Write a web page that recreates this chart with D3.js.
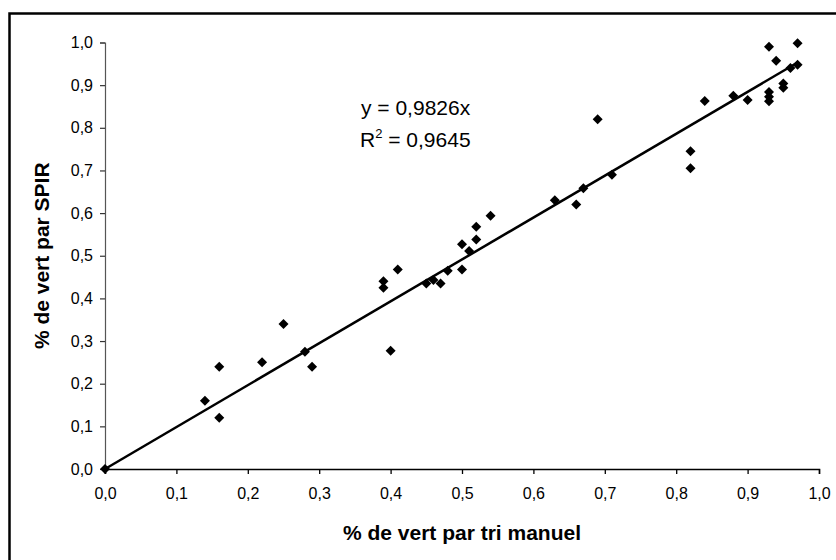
<!DOCTYPE html>
<html>
<head>
<meta charset="utf-8">
<script src="https://cdn.jsdelivr.net/npm/d3@7"></script>
<style>
  html, body { margin: 0; padding: 0; background: #fff; }
  svg { display: block; font-family: "Liberation Sans", Arial, sans-serif; }
</style>
</head>
<body>
<svg id="chart" width="836" height="560"></svg>
<script>
// Data
const manualGreen = [0.00, 0.14, 0.16, 0.16, 0.22, 0.25, 0.28, 0.29, 0.39, 0.39, 0.41, 0.40,
  0.45, 0.46, 0.47, 0.48, 0.50, 0.50, 0.51, 0.52, 0.52, 0.54, 0.63, 0.66, 0.67, 0.69, 0.71,
  0.82, 0.82, 0.84, 0.88, 0.90, 0.93, 0.93, 0.93, 0.95, 0.95, 0.93, 0.94, 0.97, 0.97, 0.96];
const spirGreen = [0.00, 0.16, 0.12, 0.24, 0.25, 0.34, 0.275, 0.24, 0.44, 0.425, 0.468, 0.277,
  0.435, 0.443, 0.435, 0.465, 0.468, 0.527, 0.511, 0.538, 0.568, 0.594, 0.63, 0.62, 0.658, 0.82, 0.69,
  0.745, 0.705, 0.863, 0.875, 0.865, 0.884, 0.873, 0.862, 0.904, 0.894, 0.99, 0.957, 0.998, 0.948, 0.94];
const tickValues = [0, 0.1, 0.2, 0.3, 0.4, 0.5, 0.6, 0.7, 0.8, 0.9, 1.0];
const slope = 0.9826;
const equationLabel = "y = 0,9826x";
const rSquaredLabel = "0,9645";
const xTitle = "% de vert par tri manuel";
const yTitle = "% de vert par SPIR";

const svg = d3.select("#chart");

// outer frame
svg.append("rect")
  .attr("x", 9.5).attr("y", 13.5)
  .attr("width", 860).attr("height", 600)
  .attr("fill", "none").attr("stroke", "#000").attr("stroke-width", 2.5);

const x = d3.scaleLinear().domain([0, 1]).range([105, 819]);
const y = d3.scaleLinear().domain([0, 1]).range([469, 42.5]);
const fmt = v => d3.format(".1f")(v).replace(".", ",");

// Y axis
const gy = svg.append("g").attr("transform", `translate(${x(0)},0)`)
  .call(d3.axisLeft(y).tickValues(tickValues).tickFormat(fmt).tickSizeOuter(0).tickSize(5).tickPadding(7));
gy.select(".domain").attr("stroke", "#555").attr("stroke-width", 1.2);
gy.selectAll(".tick line").attr("stroke", "#333").attr("stroke-width", 1.2);
gy.selectAll(".tick text").attr("font-size", 16).attr("fill", "#000")
  .attr("font-family", "'Liberation Sans', Arial, sans-serif");

// X axis
const gx = svg.append("g").attr("transform", `translate(0,${y(0)})`)
  .call(d3.axisBottom(x).tickValues(tickValues).tickFormat(fmt).tickSizeOuter(0).tickSize(5).tickPadding(14));
gx.select(".domain").attr("stroke", "#000").attr("stroke-width", 1.5);
gx.selectAll(".tick line").attr("stroke", "#000").attr("stroke-width", 1.3);
gx.selectAll(".tick text").attr("font-size", 16).attr("fill", "#000")
  .attr("font-family", "'Liberation Sans', Arial, sans-serif");

// axis titles
svg.append("text")
  .attr("x", (x(0) + x(1)) / 2).attr("y", 540)
  .attr("text-anchor", "middle")
  .attr("font-size", 21).attr("font-weight", "bold")
  .text(xTitle);

svg.append("text")
  .attr("transform", `translate(49,${(y(0) + y(1)) / 2}) rotate(-90)`)
  .attr("text-anchor", "middle")
  .attr("font-size", 21).attr("font-weight", "bold")
  .text(yTitle);

// trend line y = 0.9826x
const xMax = d3.max(manualGreen);
svg.append("line")
  .attr("x1", x(0)).attr("y1", y(0))
  .attr("x2", x(xMax)).attr("y2", y(slope * xMax))
  .attr("stroke", "#000").attr("stroke-width", 2.5);

// points
const pts = manualGreen.map((v, i) => [v, spirGreen[i]]);
svg.append("g").selectAll("path")
  .data(pts)
  .join("path")
  .attr("d", d3.symbol().type(d3.symbolSquare).size(50))
  .attr("transform", d => `translate(${x(d[0])},${y(d[1])}) rotate(45)`)
  .attr("fill", "#000");

// equation
const eq = svg.append("g").attr("font-size", 21).attr("fill", "#000");
eq.append("text").attr("x", 361).attr("y", 115).text(equationLabel);
const r2 = eq.append("text").attr("x", 360).attr("y", 147);
r2.append("tspan").text("R");
r2.append("tspan").attr("font-size", 13).attr("dy", -9).text("2");
r2.append("tspan").attr("dy", 9).text(" = " + rSquaredLabel);
</script>
</body>
</html>
